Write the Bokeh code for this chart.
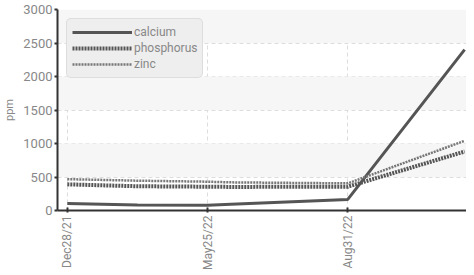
from bokeh.plotting import figure
from bokeh.models import BoxAnnotation, FixedTicker, Range1d, Legend, LegendItem
from bokeh.embed import file_html
from bokeh.resources import INLINE

# data
x_idx = [0, 3, 6, 7, 12, 17]
tick_idx = [0, 6, 12]
tick_labels = ["Dec28/21", "May25/22", "Aug31/22"]
calcium = [105, 82, 78, 95, 165, 2400]
phosphorus = [390, 362, 355, 352, 355, 880]
zinc = [468, 445, 430, 420, 405, 1040]
y_ticks = [0, 500, 1000, 1500, 2000, 2500, 3000]

FONT = "Liberation Sans Narrow, Roboto, sans-serif"

p = figure(width=466, height=273, output_backend="svg", toolbar_location=None,
           x_range=Range1d(-0.42, 17.08), y_range=Range1d(0, 3000),
           min_border_left=0, min_border_right=0, min_border_top=9, min_border_bottom=0)
p.outline_line_color = None
p.background_fill_color = "white"

for lo in (500, 1500, 2500):
    p.add_layout(BoxAnnotation(bottom=lo, top=lo + 500, fill_color="#f6f6f6", fill_alpha=1, line_color=None, level="underlay"))

r1 = p.line(x_idx, calcium, line_color="#555555", line_width=3)
r2 = p.line(x_idx, phosphorus, line_color="#555555", line_width=4, line_dash="2 1")
r3 = p.line(x_idx, zinc, line_color="#777777", line_width=2.5, line_dash="2 1")

legend = Legend(items=[LegendItem(label="calcium", renderers=[r1]),
                       LegendItem(label="phosphorus", renderers=[r2]),
                       LegendItem(label="zinc", renderers=[r3])])
legend.location = "top_left"
legend.margin = 9
legend.padding = 5
legend.spacing = 0
legend.glyph_width = 60
legend.glyph_height = 16
legend.label_height = 16
legend.label_standoff = 2
legend.label_text_font = FONT
legend.label_text_font_size = "12px"
legend.label_text_color = "#888888"
legend.background_fill_color = "#eeeeee"
legend.background_fill_alpha = 1
legend.border_line_color = "#cccccc"
legend.border_radius = 5
p.add_layout(legend)

p.xaxis.ticker = FixedTicker(ticks=tick_idx)
p.xaxis.major_label_overrides = {t: l for t, l in zip(tick_idx, tick_labels)}
p.xaxis.major_label_orientation = 3.14159 / 2
p.yaxis.ticker = FixedTicker(ticks=y_ticks)
p.yaxis.axis_label = "ppm"

for ax in (p.xaxis, p.yaxis):
    ax.axis_line_color = "#333333"
    ax.axis_line_width = 2
    ax.major_tick_line_color = "#333333"
    ax.major_tick_line_width = 2
    ax.major_tick_in = 3
    ax.major_tick_out = 3
    ax.minor_tick_line_color = None
    ax.major_label_text_font = FONT
    ax.major_label_text_font_size = "13px"
    ax.major_label_text_color = "#888888"
    ax.axis_label_text_font = FONT
    ax.axis_label_text_font_size = "11px"
    ax.axis_label_text_font_style = "normal"
    ax.axis_label_text_color = "#888888"
p.xaxis.major_label_text_font_size = "12px"
p.xaxis.major_tick_out = 2
p.xaxis.major_label_standoff = 3
p.yaxis.major_tick_in = 0
p.yaxis.major_label_standoff = 2
p.yaxis.axis_label_standoff = 4

p.xgrid.ticker = FixedTicker(ticks=tick_idx)
p.ygrid.ticker = FixedTicker(ticks=y_ticks)
p.grid.grid_line_color = "#dddddd"
p.grid.grid_line_dash = "4 3"
p.grid.grid_line_width = 1

open("out.html", "w").write(file_html(p, INLINE))
